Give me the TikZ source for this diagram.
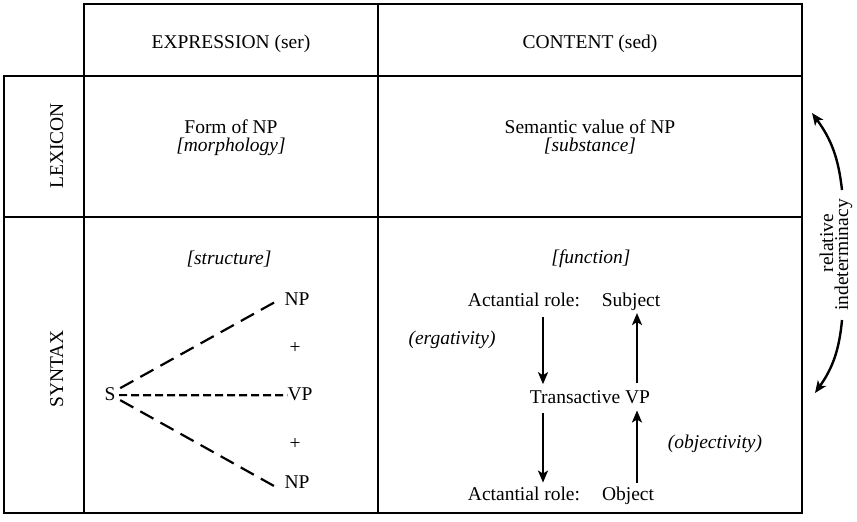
\documentclass[tikz,border=0pt]{standalone}
\usepackage{fontspec}
\setmainfont{Liberation Serif}
\usetikzlibrary{arrows.meta,calc}
\begin{document}
\begin{tikzpicture}[x=1pt,y=-1pt,
  txt/.style={font=\fontsize{19.5}{22}\selectfont, inner sep=0pt},
  it/.style={inner sep=0pt, font=\fontsize{19.5}{22}\selectfont\itshape},
  frame/.style={line width=2.6pt},
  dlong/.style={line width=2.2pt, dash pattern=on 15pt off 8pt},
  dshort/.style={line width=2.2pt, dash pattern=on 8pt off 4pt},
  arr/.style={line width=2.4pt, -{Stealth[length=12pt,width=10pt,inset=3pt]}},
]
\useasboundingbox (0,0) rectangle (857,522);
% frame
\draw[frame] (84,76) -- (84,4) -- (802,4) -- (802,513) -- (4,513) -- (4,76) -- (802,76);
\draw[frame] (84,76) -- (84,513);
\draw[frame] (378,4) -- (378,513);
\draw[frame] (4,217) -- (802,217);
% headers
\node[txt,anchor=base] (expr) at (231,48) {EXPRESSION (ser)};
\node[txt,anchor=base] (cont) at (590,48) {CONTENT (sed)};
\node[txt,anchor=base,rotate=90] (lex) at (63,146) {LEXICON};
\node[txt,anchor=base,rotate=90] (syn) at (63,369) {SYNTAX};
% lexicon row
\node[txt,anchor=base] (form) at (231,133) {Form of NP};
\node[it,anchor=base] (morph) at (231,151) {[morphology]};
\node[txt,anchor=base] (sem) at (590,133) {Semantic value of NP};
\node[it,anchor=base] (subst) at (590,151) {[substance]};
% syntax: expression
\node[it,anchor=base] (struct) at (229,264) {[structure]};
\node[txt,anchor=base] (S) at (110,400) {S};
\node[txt,anchor=base] (NPa) at (297,305) {NP};
\node[txt,anchor=base] (plusa) at (295,353) {+};
\node[txt,anchor=base] (VP) at (300,400) {VP};
\node[txt,anchor=base] (plusb) at (295,449) {+};
\node[txt,anchor=base] (NPb) at (297,488) {NP};
\draw[dlong] ([xshift=4.6pt,yshift=5.5pt]S.east) -- ([xshift=-9.5pt,yshift=-3.5pt]NPa.west);
\draw[dshort] ([xshift=3.6pt,yshift=-1.5pt]S.east) -- ([yshift=-1.5pt]VP.west);
\draw[dlong] ([xshift=4.6pt,yshift=-6.5pt]S.east) -- ([xshift=-6.5pt,yshift=-6.5pt]NPb.west);
% syntax: content
\node[it,anchor=base] (func) at (591,263) {[function]};
\node[txt,anchor=base] (AR1) at (524,306) {Actantial role:};
\node[txt,anchor=base] (subj) at (631,306) {Subject};
\node[it,anchor=base] (erg) at (452,344) {(ergativity)};
\node[txt,anchor=base] (TVP) at (590,403) {Transactive VP};
\node[it,anchor=base] (objv) at (715,448) {(objectivity)};
\node[txt,anchor=base] (AR2) at (524,500) {Actantial role:};
\node[txt,anchor=base] (obj) at (628,500) {Object};
\coordinate (xL) at (543,0);
\coordinate (xR) at (637,0);
\draw[arr] ([yshift=-11pt]AR1.south -| xL) -- ([yshift=5.7pt]TVP.north -| xL);
\draw[arr] ([yshift=6.7pt]TVP.north -| xR) -- ([yshift=-2.7pt]subj.south -| xR);
\draw[arr] ([yshift=-10pt]TVP.south -| xL) -- ([yshift=3.7pt]AR2.north -| xL);
\draw[arr] ([yshift=3.7pt]obj.north -| xR) -- ([yshift=-7pt]TVP.south -| xR);
% relative indeterminacy
\node[txt,anchor=base,rotate=90] (rel) at (833,243) {relative};
\node[txt,anchor=base,rotate=90] (ind) at (848,255) {indeterminacy};
\coordinate (u0) at (842,190);
\coordinate (u1) at (812,113);
\coordinate (l0) at (842,320);
\coordinate (l1) at (815,393);
\draw[arr] (u0) to[bend right=15] (u1);
\draw[arr] (l0) to[bend left=15] (l1);
\end{tikzpicture}
\end{document}
